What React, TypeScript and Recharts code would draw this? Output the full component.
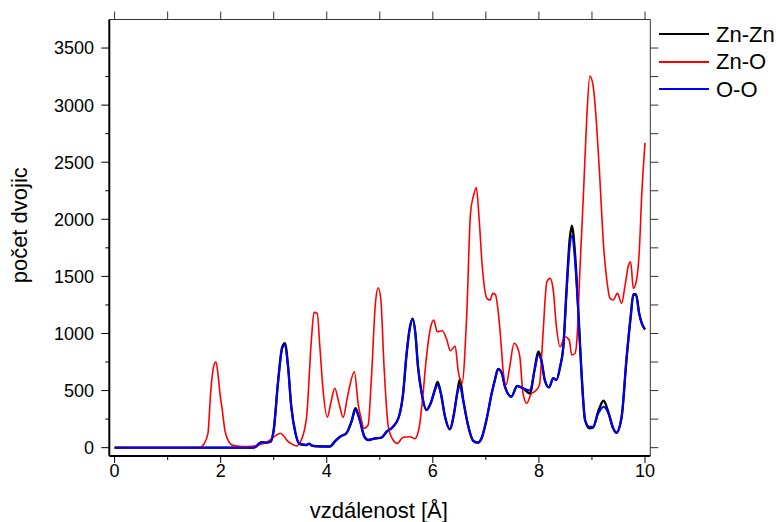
import React from 'react';
import { LineChart, Line, XAxis, YAxis, Legend } from 'recharts';

const FONT = '"Liberation Sans", Arial, sans-serif';

// Zn-O (red)
const znoX = [0, 1.6, 1.68, 1.76, 1.81, 1.86, 1.91, 1.95, 1.99, 2.03, 2.08, 2.13, 2.23, 2.4, 2.6, 2.72, 2.85, 2.95, 3.05, 3.13, 3.2, 3.27, 3.35, 3.43, 3.52, 3.62, 3.71, 3.76, 3.82, 3.87, 3.93, 4.01, 4.08, 4.15, 4.23, 4.31, 4.38, 4.43, 4.52, 4.59, 4.65, 4.7, 4.78, 4.84, 4.92, 4.97, 5.02, 5.08, 5.16, 5.25, 5.33, 5.44, 5.57, 5.66, 5.74, 5.81, 5.88, 5.96, 6.02, 6.08, 6.18, 6.26, 6.33, 6.42, 6.48, 6.55, 6.64, 6.71, 6.77, 6.82, 6.87, 6.93, 7.02, 7.08, 7.13, 7.18, 7.23, 7.28, 7.33, 7.38, 7.45, 7.53, 7.59, 7.64, 7.7, 7.77, 7.86, 7.92, 8.01, 8.07, 8.15, 8.21, 8.27, 8.33, 8.4, 8.49, 8.57, 8.62, 8.68, 8.72, 8.77, 8.84, 8.9, 8.96, 9.02, 9.09, 9.15, 9.22, 9.28, 9.34, 9.4, 9.48, 9.56, 9.62, 9.69, 9.73, 9.78, 9.84, 9.89, 9.94, 10.0];
const znoY = [0, 0, 30, 126, 476, 695, 753, 640, 460, 330, 150, 75, 20, 10, 12, 25, 45, 75, 110, 126, 95, 55, 30, 15, 67, 271, 943, 1185, 1176, 884, 505, 266, 400, 520, 390, 266, 420, 534, 665, 389, 250, 170, 199, 593, 1278, 1400, 1293, 709, 184, 67, 38, 91, 96, 79, 170, 447, 797, 1059, 1118, 1015, 1024, 949, 849, 890, 665, 564, 1176, 2052, 2212, 2279, 2022, 1599, 1307, 1293, 1351, 1340, 1200, 950, 650, 549, 709, 914, 884, 797, 476, 389, 476, 490, 549, 943, 1453, 1483, 1380, 1059, 884, 972, 943, 811, 825, 972, 1526, 2227, 2869, 3254, 3175, 2810, 2343, 1760, 1468, 1308, 1293, 1351, 1264, 1410, 1599, 1628, 1395, 1468, 1701, 2227, 2670];

// O-O (blue) and Zn-Zn (black) share the same distances
const ooX = [0, 2.6, 2.67, 2.72, 2.77, 2.86, 2.94, 3.0, 3.08, 3.16, 3.21, 3.27, 3.33, 3.41, 3.49, 3.62, 3.67, 3.71, 3.8, 4.06, 4.15, 4.25, 4.37, 4.47, 4.54, 4.62, 4.71, 4.78, 4.86, 4.94, 5.03, 5.13, 5.25, 5.36, 5.44, 5.5, 5.57, 5.62, 5.67, 5.72, 5.79, 5.88, 5.96, 6.04, 6.09, 6.15, 6.23, 6.32, 6.4, 6.46, 6.51, 6.57, 6.67, 6.76, 6.85, 6.93, 7.01, 7.11, 7.17, 7.23, 7.3, 7.36, 7.48, 7.59, 7.7, 7.83, 7.92, 7.99, 8.05, 8.11, 8.19, 8.27, 8.33, 8.4, 8.46, 8.52, 8.58, 8.62, 8.68, 8.74, 8.8, 8.87, 8.95, 9.02, 9.12, 9.22, 9.31, 9.4, 9.46, 9.56, 9.65, 9.73, 9.78, 9.83, 9.89, 9.94, 10.0];
const ooY = [0, 0, 10, 35, 47, 44, 53, 155, 564, 870, 899, 709, 359, 126, 32, 24, 35, 20, 12, 10, 53, 96, 126, 228, 330, 242, 96, 67, 75, 82, 88, 140, 184, 271, 476, 797, 1059, 1124, 1001, 709, 476, 330, 389, 505, 549, 476, 271, 161, 301, 476, 540, 418, 184, 61, 44, 96, 242, 476, 593, 686, 651, 534, 447, 540, 520, 502, 680, 811, 753, 593, 528, 608, 593, 709, 884, 1351, 1760, 1853, 1643, 1205, 680, 242, 184, 184, 301, 359, 301, 170, 131, 271, 768, 1147, 1337, 1337, 1176, 1089, 1036];
const znznY = [0, 0, 10, 35, 47, 44, 53, 155, 570, 880, 915, 715, 365, 126, 32, 24, 35, 20, 12, 10, 53, 96, 126, 235, 345, 248, 96, 67, 75, 82, 88, 140, 184, 271, 476, 797, 1059, 1130, 1005, 709, 476, 330, 389, 510, 575, 480, 271, 161, 301, 480, 600, 425, 184, 61, 44, 96, 242, 476, 593, 690, 655, 534, 447, 540, 520, 475, 690, 842, 760, 593, 528, 608, 593, 709, 884, 1380, 1820, 1943, 1700, 1220, 680, 242, 170, 175, 320, 411, 310, 170, 131, 271, 768, 1147, 1345, 1345, 1176, 1089, 1036];

const seriesNames = ['Zn-Zn', 'Zn-O', 'O-O'];
const xTicks = [0, 1, 2, 3, 4, 5, 6, 7, 8, 9, 10];
const yTicks = [0, 250, 500, 750, 1000, 1250, 1500, 1750, 2000, 2250, 2500, 2750, 3000, 3250, 3500];
const xDomain = [-0.1, 10.1];
const yDomain = [-73, 3750];

const zip = (xs: number[], ys: number[]) => xs.map((x, i) => ({ x, y: ys[i] }));
const znznData = zip(ooX, znznY);
const znoData = zip(znoX, znoY);
const ooData = zip(ooX, ooY);

const BottomTick = (props: any) => {
  const { x, y, payload } = props;
  const major = payload.value % 2 === 0;
  return (
    <g>
      <line x1={x} x2={x} y1={y} y2={y + (major ? 7 : 4)} stroke="#000" strokeWidth={1} />
      {major && (
        <text x={x} y={y + 20.7} textAnchor="middle" fontSize={18} fontFamily={FONT} fill="#000">
          {payload.value}
        </text>
      )}
    </g>
  );
};

const LeftTick = (props: any) => {
  const { x, y, payload } = props;
  const major = payload.value % 500 === 0;
  return (
    <g>
      <line x1={x - (major ? 8 : 4)} x2={x} y1={y} y2={y} stroke="#000" strokeWidth={1} />
      {major && (
        <text x={x - 15.3} y={y + 6.4} textAnchor="end" fontSize={18} fontFamily={FONT} fill="#000">
          {payload.value}
        </text>
      )}
    </g>
  );
};

const TopTick = (props: any) => {
  const { x, y } = props;
  return <line x1={x} x2={x} y1={y} y2={y - 8} stroke="#333" strokeWidth={1} />;
};

const RightTick = (props: any) => {
  const { x, y } = props;
  return <line x1={x} x2={x + 8} y1={y} y2={y} stroke="#333" strokeWidth={1} />;
};

const LegendBox = ({ payload }: any) => {
  const items = [...(payload || [])].sort(
    (a: any, b: any) => seriesNames.indexOf(a.value) - seriesNames.indexOf(b.value)
  );
  return (
    <div style={{ fontFamily: FONT, fontSize: 22, color: '#000' }}>
      {items.map((p: any) => (
        <div key={p.value} style={{ display: 'flex', alignItems: 'center', height: 27.4 }}>
          <div style={{ width: 50, borderTop: `2px solid ${p.color}`, marginRight: 7 }} />
          <span style={{ lineHeight: '25px' }}>{p.value}</span>
        </div>
      ))}
    </div>
  );
};

const YTitle = (props: any) => {
  const vb = props.viewBox || { x: 0, y: 0, height: 0 };
  const cx = vb.x + 26.5;
  const cy = vb.y + vb.height / 2 - 12.5;
  return (
    <text x={cx} y={cy} transform={`rotate(-90, ${cx}, ${cy})`} textAnchor="middle" fontSize={22} fontFamily={FONT} fill="#000">
      počet dvojic
    </text>
  );
};

const XTitle = (props: any) => {
  const vb = props.viewBox || { x: 0, y: 0, width: 0 };
  return (
    <text x={vb.x + vb.width / 2 - 1} y={517.5} textAnchor="middle" fontSize={22} fontFamily={FONT} fill="#000">
      vzdálenost [Å]
    </text>
  );
};

export default function App() {
  return (
    <div style={{ position: 'absolute', left: 0, top: 0, width: 776, height: 522, background: '#fff' }}>
      <LineChart width={776} height={522} margin={{ top: 0, right: 115.7, bottom: 0, left: 0 }}>
        <XAxis
          xAxisId="bottom"
          type="number"
          dataKey="x"
          domain={xDomain}
          allowDataOverflow
          ticks={xTicks}
          interval={0}
          height={66}
          tickSize={0}
          tickMargin={0}
          tick={<BottomTick />}
          axisLine={{ stroke: '#000', strokeWidth: 2 }}
          label={<XTitle />}
        />
        <XAxis
          xAxisId="top"
          orientation="top"
          type="number"
          dataKey="x"
          domain={xDomain}
          allowDataOverflow
          ticks={xTicks}
          interval={0}
          height={19.5}
          tickSize={0}
          tickMargin={0}
          tick={<TopTick />}
          axisLine={{ stroke: '#333', strokeWidth: 1 }}
        />
        <YAxis
          yAxisId="left"
          type="number"
          domain={yDomain}
          allowDataOverflow
          ticks={yTicks}
          interval={0}
          width={109.3}
          tickSize={0}
          tickMargin={0}
          tick={<LeftTick />}
          axisLine={{ stroke: '#000', strokeWidth: 2 }}
          label={<YTitle />}
        />
        <YAxis
          yAxisId="right"
          orientation="right"
          type="number"
          domain={yDomain}
          allowDataOverflow
          ticks={yTicks}
          interval={0}
          width={10}
          tickSize={0}
          tickMargin={0}
          tick={<RightTick />}
          axisLine={{ stroke: '#333', strokeWidth: 1 }}
        />
        <Legend
          layout="vertical"
          align="center"
          verticalAlign="middle"
          wrapperStyle={{ left: 659, top: 20.6, width: 117 }}
          content={<LegendBox />}
        />
        <Line xAxisId="bottom" yAxisId="left" data={znznData} dataKey="y" name="Zn-Zn" type="monotone" stroke="#000000" strokeWidth={2.4} dot={false} isAnimationActive={false} />
        <Line xAxisId="bottom" yAxisId="left" data={znoData} dataKey="y" name="Zn-O" type="monotone" stroke="#ff0000" strokeWidth={1.6} dot={false} isAnimationActive={false} />
        <Line xAxisId="bottom" yAxisId="left" data={ooData} dataKey="y" name="O-O" type="monotone" stroke="#0000ff" strokeWidth={2} dot={false} isAnimationActive={false} />
      </LineChart>
    </div>
  );
}
